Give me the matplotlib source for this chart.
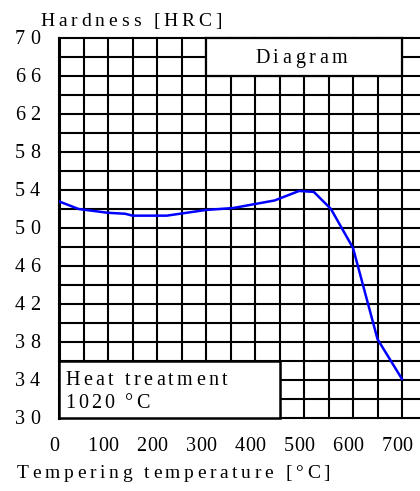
import numpy as np
import matplotlib
matplotlib.use("Agg")
import matplotlib.pyplot as plt
from matplotlib.patches import Rectangle
from matplotlib.font_manager import FontProperties
from matplotlib.transforms import IdentityTransform

# datos
temperatura = [0, 40, 100, 135, 150, 220, 300, 355, 440, 490, 520, 555, 600, 650, 700]
dureza = [52.8, 52.0, 51.6, 51.5, 51.3, 51.3, 51.9, 52.1, 52.9, 53.9, 53.8, 52.0, 47.9, 38.3, 34.1]
xticks = [0, 100, 200, 300, 400, 500, 600, 700]
yticks = [70, 66, 62, 58, 54, 50, 46, 42, 38, 34, 30]

W, H = 420, 491
fig = plt.figure(figsize=(W / 100, H / 100), dpi=100)
fig.patch.set_facecolor("white")
ax = fig.add_axes([59 / W, (H - 418) / H, (W - 59) / W, (418 - 38) / H])
ax.set_xlim(0, 736.7)
ax.set_ylim(30, 70)
ax.axis("off")

# cuadricula
for xv in np.arange(0, 751, 50):
    ax.axvline(xv, color="black", lw=2.2 if xv == 0 else 1.5, zorder=1, clip_on=False)
for yv in np.arange(30, 70.1, 2):
    ax.axhline(yv, color="black", lw=1.5, zorder=1, clip_on=False)

# recuadros blancos
ax.add_patch(Rectangle((300, 66), 400, 4, facecolor="white", edgecolor="black", lw=1.6, zorder=2, clip_on=False))
ax.add_patch(Rectangle((0, 30), 450, 6, facecolor="white", edgecolor="black", lw=1.8, zorder=2, clip_on=False))

ax.plot(temperatura, dureza, color="#0000ff", lw=1.8, zorder=3)

renderer = fig.canvas.get_renderer()


def texto_espaciado(x, y_img, s, ancho_total, ha="left", size=14):
    # x, y en pixeles de la imagen (y desde arriba), y = linea base
    prop = FontProperties(family="Liberation Serif", size=size)

    def ancho(t):
        w, _, _ = renderer.get_text_width_height_descent(t, prop, ismath=False)
        return w

    w0 = ancho("|")
    anchos = [ancho("|" + c) - w0 for c in s]
    track = max(0, (ancho_total - sum(anchos)) / max(1, len(s) - 1))
    total = sum(anchos) + track * (len(s) - 1)
    if ha == "center":
        x -= total / 2
    elif ha == "right":
        x -= total
    for c, w in zip(s, anchos):
        fig.text(x, H - y_img, c, transform=IdentityTransform(), fontproperties=prop,
                 va="baseline", ha="left", color="black")
        x += w + track


def a_pixel(xd, yd):
    px, py = ax.transData.transform((xd, yd))
    return px, H - py


for t in yticks:
    _, py = a_pixel(0, t)
    texto_espaciado(40, py + 6, str(t), 25, ha="right", size=14.5)

for t in xticks:
    px, _ = a_pixel(t, 30)
    texto_espaciado(px - 5, 451, str(t), 9 if t == 0 else 31, ha="center", size=14.5)

cx, cy = a_pixel(500, 68)
texto_espaciado(cx - 3, cy + 6, "Diagram", 92, ha="center", size=14.5)
texto_espaciado(40, 26, "Hardness [HRC]", 182)
texto_espaciado(65, 385, "Heat treatment", 162, size=14.5)
texto_espaciado(65, 408, "1020 °C", 85, size=14.5)
texto_espaciado(17, 478, "Tempering temperature [°C]", 313)

fig.savefig("out.png", dpi=100, facecolor="white")
